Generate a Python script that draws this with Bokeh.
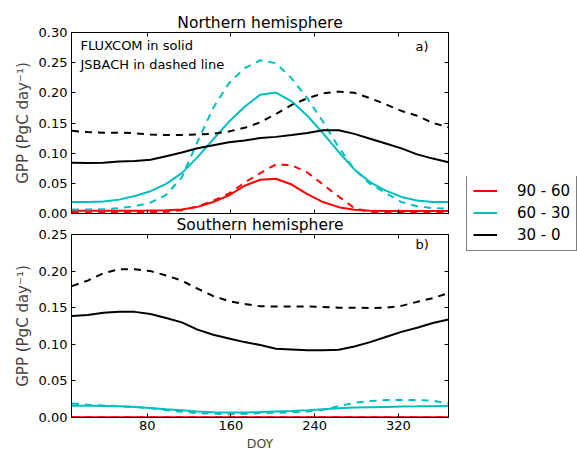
from bokeh.plotting import figure
from bokeh.models import (Range1d, LinearAxis, FixedTicker, NumeralTickFormatter,
                          Label, Legend, LegendItem)
from bokeh.layouts import column
from bokeh.embed import file_html
from bokeh.resources import INLINE

# ---------------- data ----------------
doy = [8, 23, 38, 53, 68, 83, 98, 113, 128, 143, 158, 173, 188, 203, 218,
       233, 248, 263, 278, 293, 308, 323, 338, 353, 368]

x_ticks = [80, 160, 240, 320]
nh_y_ticks = [0.00, 0.05, 0.10, 0.15, 0.20, 0.25, 0.30]
sh_y_ticks = [0.00, 0.05, 0.10, 0.15, 0.20, 0.25]

band_labels = ["90 - 60", "60 - 30", "30 - 0"]

nh_90_60_fluxcom = [0.0045, 0.0045, 0.0045, 0.0045, 0.0046, 0.0048, 0.0053, 0.0068, 0.0110, 0.0190,
                    0.0300, 0.0460, 0.0560, 0.0575, 0.0480, 0.0320, 0.0190, 0.0105, 0.0062, 0.0047,
                    0.0042, 0.0040, 0.0040, 0.0040, 0.0040]
nh_90_60_jsbach = [0.0018, 0.0018, 0.0018, 0.0018, 0.0019, 0.0021, 0.0028, 0.0055, 0.0115, 0.0210,
                   0.0330, 0.0510, 0.0670, 0.0815, 0.0800, 0.0680, 0.0480, 0.0280, 0.0090, 0.0020,
                   0.0012, 0.0010, 0.0010, 0.0010, 0.0010]
nh_60_30_fluxcom = [0.0190, 0.0192, 0.0200, 0.0230, 0.0290, 0.0370, 0.0490, 0.0670, 0.0935, 0.1230,
                    0.1520, 0.1770, 0.1970, 0.2005, 0.1860, 0.1620, 0.1330, 0.1020, 0.0730, 0.0520,
                    0.0380, 0.0275, 0.0215, 0.0192, 0.0190]
nh_60_30_jsbach = [0.0066, 0.0068, 0.0070, 0.0090, 0.0120, 0.0180, 0.0310, 0.0600, 0.1190, 0.1750,
                   0.2160, 0.2410, 0.2540, 0.2490, 0.2240, 0.1910, 0.1520, 0.1100, 0.0730, 0.0490,
                   0.0340, 0.0190, 0.0120, 0.0088, 0.0080]
nh_30_0_fluxcom = [0.0840, 0.0835, 0.0840, 0.0860, 0.0870, 0.0890, 0.0950, 0.1010, 0.1080, 0.1130,
                   0.1180, 0.1210, 0.1250, 0.1270, 0.1300, 0.1335, 0.1380, 0.1380, 0.1320, 0.1240,
                   0.1160, 0.1080, 0.0980, 0.0910, 0.0850]
nh_30_0_jsbach = [0.1370, 0.1350, 0.1340, 0.1340, 0.1330, 0.1310, 0.1300, 0.1300, 0.1310, 0.1320,
                  0.1360, 0.1420, 0.1510, 0.1650, 0.1800, 0.1910, 0.1990, 0.2020, 0.2000, 0.1910,
                  0.1810, 0.1700, 0.1620, 0.1500, 0.1430]

sh_90_60_fluxcom = [0.0004, 0.0004, 0.0004, 0.0004, 0.0004, 0.0004, 0.0004, 0.0004, 0.0004, 0.0004,
                    0.0004, 0.0004, 0.0004, 0.0004, 0.0004, 0.0004, 0.0004, 0.0004, 0.0004, 0.0004,
                    0.0004, 0.0004, 0.0004, 0.0004, 0.0004]
sh_90_60_jsbach = [0.0002, 0.0002, 0.0002, 0.0002, 0.0002, 0.0002, 0.0002, 0.0002, 0.0002, 0.0002,
                   0.0002, 0.0002, 0.0002, 0.0002, 0.0002, 0.0002, 0.0002, 0.0002, 0.0002, 0.0002,
                   0.0002, 0.0002, 0.0002, 0.0002, 0.0002]
sh_60_30_fluxcom = [0.0160, 0.0160, 0.0158, 0.0153, 0.0145, 0.0130, 0.0113, 0.0098, 0.0082, 0.0072,
                    0.0068, 0.0068, 0.0075, 0.0083, 0.0090, 0.0100, 0.0114, 0.0125, 0.0135, 0.0140,
                    0.0145, 0.0150, 0.0152, 0.0155, 0.0160]
sh_60_30_jsbach = [0.0190, 0.0175, 0.0165, 0.0155, 0.0145, 0.0125, 0.0100, 0.0078, 0.0060, 0.0050,
                   0.0045, 0.0050, 0.0060, 0.0065, 0.0070, 0.0082, 0.0105, 0.0155, 0.0200, 0.0225,
                   0.0238, 0.0240, 0.0240, 0.0228, 0.0195]
sh_30_0_fluxcom = [0.1386, 0.1400, 0.1430, 0.1443, 0.1443, 0.1415, 0.1360, 0.1300, 0.1200, 0.1130,
                   0.1080, 0.1030, 0.0990, 0.0940, 0.0930, 0.0920, 0.0918, 0.0925, 0.0970, 0.1030,
                   0.1100, 0.1170, 0.1227, 0.1290, 0.1340]
sh_30_0_jsbach = [0.1795, 0.1870, 0.1970, 0.2025, 0.2025, 0.2000, 0.1940, 0.1870, 0.1760, 0.1660,
                  0.1590, 0.1550, 0.1520, 0.1515, 0.1518, 0.1518, 0.1510, 0.1500, 0.1500, 0.1495,
                  0.1500, 0.1525, 0.1580, 0.1630, 0.1700]

# ---------------- style ----------------
FONT = "DejaVu Sans"
RED, CYAN, BLACK = "#ff0000", "#00bfbf", "#000000"
DASH = "7 6"
LW = 2
X0, X1 = 7.5, 368
W = 577


def make_panel(height, ymax, yticks, border_top, border_bottom, show_x_labels, title):
    p = figure(width=W, height=height, x_range=Range1d(X0, X1), y_range=Range1d(0, ymax),
               output_backend="svg", toolbar_location=None,
               min_border_left=71, min_border_right=129,
               min_border_top=border_top, min_border_bottom=border_bottom)
    p.grid.visible = False
    p.outline_line_color = BLACK
    p.outline_line_width = 1
    p.border_fill_alpha = 0
    p.background_fill_color = "white"

    p.title.text = title
    p.title.align = "center"
    p.title.text_font = FONT
    p.title.text_font_size = "15.5px"
    p.title.text_font_style = "normal"
    p.title.text_color = BLACK
    p.title.standoff = 2

    ya = p.yaxis[0]
    ya.ticker = FixedTicker(ticks=yticks)
    ya.formatter = NumeralTickFormatter(format="0.00")
    ya.axis_label = "GPP (PgC day\u207b\u00b9)"
    ya.axis_label_text_font = FONT
    ya.axis_label_text_font_size = "15px"
    ya.axis_label_text_font_style = "normal"
    ya.axis_label_standoff = 4
    xa = p.xaxis[0]
    xa.ticker = FixedTicker(ticks=x_ticks)
    for ax in (xa, ya):
        ax.major_label_text_font = FONT
        ax.major_label_text_font_size = "13px"
        ax.major_label_text_color = BLACK
        ax.major_label_standoff = 4
        ax.major_tick_in = 4
        ax.major_tick_out = 0
        ax.minor_tick_line_color = None
        ax.axis_line_color = BLACK
        ax.major_tick_line_color = BLACK
    if show_x_labels:
        xa.axis_label = "DOY"
        xa.axis_label_text_font = FONT
        xa.axis_label_text_font_size = "12.5px"
        xa.axis_label_text_font_style = "normal"
        xa.axis_label_standoff = 3
        xa.major_label_standoff = 3
    else:
        xa.major_label_overrides = {t: "" for t in x_ticks}

    ra = LinearAxis(ticker=FixedTicker(ticks=yticks),
                    major_label_overrides={t: "" for t in yticks})
    ta = LinearAxis(ticker=FixedTicker(ticks=x_ticks),
                    major_label_overrides={t: "" for t in x_ticks})
    for ax in (ra, ta):
        ax.major_tick_in = 4
        ax.major_tick_out = 0
        ax.minor_tick_line_color = None
        ax.axis_line_color = BLACK
        ax.major_label_standoff = 0
        ax.major_label_text_font_size = "1px"
    p.add_layout(ra, "right")
    p.add_layout(ta, "above")
    return p


H1, BT1, BB1 = 256, 32, 43
p1 = make_panel(H1, 0.30, nh_y_ticks, BT1, BB1, False, "Northern hemisphere")
p1.line(doy, nh_90_60_fluxcom, line_color=RED, line_width=LW)
p1.line(doy, nh_90_60_jsbach, line_color=RED, line_width=LW, line_dash=DASH)
p1.line(doy, nh_60_30_fluxcom, line_color=CYAN, line_width=LW)
p1.line(doy, nh_60_30_jsbach, line_color=CYAN, line_width=LW, line_dash=DASH)
p1.line(doy, nh_30_0_fluxcom, line_color=BLACK, line_width=LW)
p1.line(doy, nh_30_0_jsbach, line_color=BLACK, line_width=LW, line_dash=DASH)

fh1 = H1 - BT1 - BB1
p1.add_layout(Label(x=9, y=fh1 - 12.5, x_units="screen", y_units="screen",
                    text="FLUXCOM in solid", text_font=FONT, text_font_size="13px",
                    text_align="left", text_baseline="middle", text_color=BLACK))
p1.add_layout(Label(x=9, y=fh1 - 31.5, x_units="screen", y_units="screen",
                    text="JSBACH in dashed line", text_font=FONT, text_font_size="13px",
                    text_align="left", text_baseline="middle", text_color=BLACK))
p1.add_layout(Label(x=344, y=fh1 - 13.5, x_units="screen", y_units="screen",
                    text="a)", text_font=FONT, text_font_size="13px",
                    text_align="left", text_baseline="middle", text_color=BLACK))

# legend: its own small transparent canvas with a fixed frame, placed between panels
LW_FR, LH_FR = 111, 75
lf = figure(frame_width=LW_FR, frame_height=LH_FR,
            x_range=Range1d(-10, -9), y_range=Range1d(-10, -9),
            output_backend="svg", toolbar_location=None,
            min_border=0, min_border_left=0, min_border_right=0,
            min_border_top=0, min_border_bottom=0,
            x_axis_location=None, y_axis_location=None)
lf.grid.visible = False
lf.outline_line_color = None
lf.background_fill_alpha = 0
lf.border_fill_alpha = 0
l1 = lf.line(doy, nh_90_60_fluxcom, line_color=RED, line_width=LW)
l2 = lf.line(doy, nh_60_30_fluxcom, line_color=CYAN, line_width=LW)
l3 = lf.line(doy, nh_30_0_fluxcom, line_color=BLACK, line_width=LW)
legend = Legend(items=[LegendItem(label=band_labels[0], renderers=[l1]),
                       LegendItem(label=band_labels[1], renderers=[l2]),
                       LegendItem(label=band_labels[2], renderers=[l3])],
                location=(0, 0), margin=0)
legend.label_text_font = FONT
legend.label_text_font_size = "15px"
legend.label_text_color = BLACK
legend.glyph_width = 24
legend.glyph_height = 19
legend.label_height = 19
legend.label_width = 53
legend.label_standoff = 20
legend.spacing = 3
legend.padding = 6
legend.border_line_color = BLACK
legend.border_line_width = 1
legend.background_fill_color = "white"
legend.background_fill_alpha = 1
lf.add_layout(legend)
lf.margin = (-80, 0, 0, 466)

H2, BT2, BB2 = 241, 21, 36
p2 = make_panel(H2, 0.25, sh_y_ticks, BT2, BB2, True, "Southern hemisphere")
p2.line(doy, sh_90_60_fluxcom, line_color=RED, line_width=LW)
p2.line(doy, sh_90_60_jsbach, line_color=RED, line_width=LW, line_dash=DASH)
p2.line(doy, sh_60_30_fluxcom, line_color=CYAN, line_width=LW)
p2.line(doy, sh_60_30_jsbach, line_color=CYAN, line_width=LW, line_dash=DASH)
p2.line(doy, sh_30_0_fluxcom, line_color=BLACK, line_width=LW)
p2.line(doy, sh_30_0_jsbach, line_color=BLACK, line_width=LW, line_dash=DASH)

fh2 = H2 - BT2 - BB2
p2.add_layout(Label(x=344, y=fh2 - 11, x_units="screen", y_units="screen",
                    text="b)", text_font=FONT, text_font_size="13px",
                    text_align="left", text_baseline="middle", text_color=BLACK))
p2.margin = (-39, 0, 0, 0)

layout = column(p1, lf, p2)
layout.margin = 0
open("out.html", "w").write(file_html(layout, INLINE))
